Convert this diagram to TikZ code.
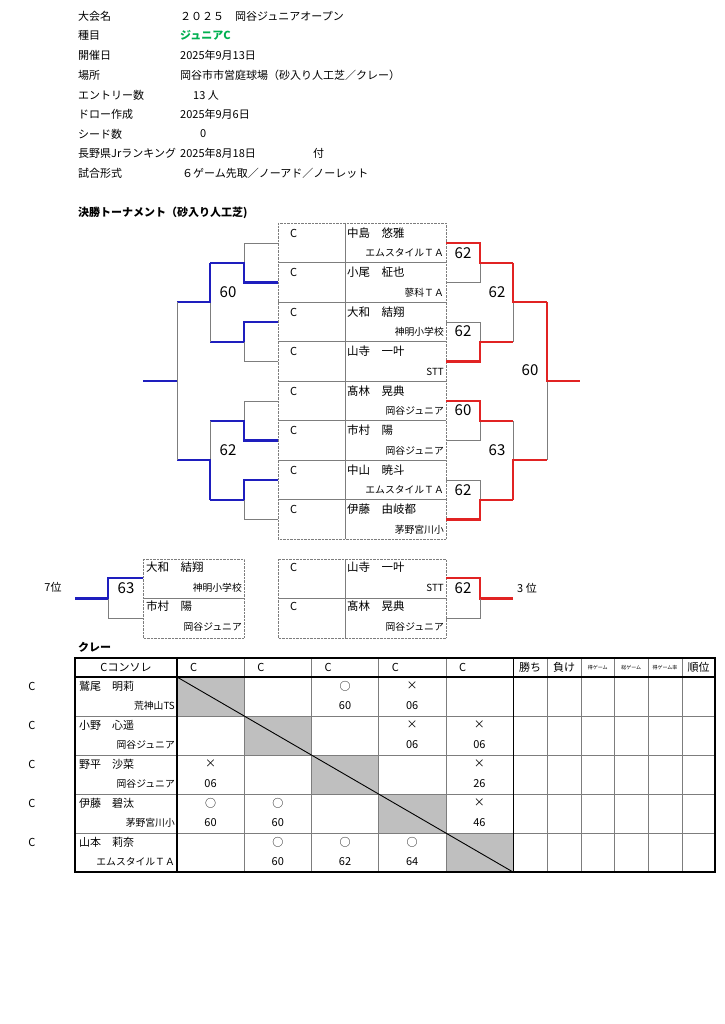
\documentclass[tikz,border=0pt]{standalone}
\usepackage{fontspec}
\setmainfont{Noto Sans CJK JP}
\usepackage{tikz}
\usetikzlibrary{positioning, calc}

\definecolor{tourblue}{RGB}{30,30,190}
\definecolor{tourred}{RGB}{225,35,35}
\definecolor{jrgreen}{RGB}{0,176,80}
\definecolor{lineg}{RGB}{125,125,125}
\definecolor{cellg}{RGB}{191,191,191}

\tikzset{
  lbl/.style={anchor=west, inner sep=0pt, font=\fontsize{11}{13}\selectfont},
  pname/.style={anchor=west, inner sep=0pt, font=\fontsize{11.5}{13}\selectfont},
  ctr/.style={inner sep=0pt, font=\fontsize{11}{13}\selectfont},
  club/.style={anchor=east, inner sep=0pt, font=\fontsize{9.8}{11}\selectfont},
  score/.style={inner sep=0pt, font=\fontsize{15}{17}\selectfont},
  tiny/.style={inner sep=0pt, font=\fontsize{5}{6}\selectfont},
  loser/.style={draw=lineg, line width=0.8pt},
  winL/.style={draw=tourblue, line width=2.3pt},
  winR/.style={draw=tourred, line width=2.3pt}
}

\begin{document}
\begin{tikzpicture}[x=1pt, y=-1pt]
\useasboundingbox[fill=white] (0,0) rectangle (724,1024);

% Header block
\foreach \i/\y/\lab in {1/16/大会名, 2/35/種目, 3/55/開催日, 4/75/場所, 5/95/エントリー数,
                        6/114/ドロー作成, 7/134/シード数, 8/153/長野県Jrランキング, 9/173/試合形式} {
    \node[lbl] (hl\i) at (78,\y) {\lab};
}
\node[lbl] (hv1) at (180,16) {２０２５　岡谷ジュニアオープン};
\node[lbl, text=jrgreen, font={\fontsize{11}{13}\selectfont\bfseries}] (hv2) at (180,35) {ジュニアC};
\node[lbl] (hv3) at (180,55) {2025年9月13日};
\node[lbl] (hv4) at (180,75) {岡谷市市営庭球場（砂入り人工芝／クレー）};
\node[lbl] (hv5) at (193,95) {13 人};
\node[lbl] (hv6) at (180,114) {2025年9月6日};
\node[lbl] (hv7) at (200,134) {0};
\node[lbl] (hv8) at (180,153) {2025年8月18日};
\node[lbl] (hv8b) at (313,153) {付};
\node[lbl] (hv9) at (182,173) {６ゲーム先取／ノーアド／ノーレット};

\node[lbl, font={\fontsize{11}{13}\selectfont\bfseries}] (final) at (78,213) {決勝トーナメント（砂入り人工芝)};

% Draw sheet (8 players)
\draw[lineg, densely dotted] (278,223) rectangle (446,539);
\draw[lineg] (345,223) -- (345,539);
\foreach \k/\pn/\pclub in {0/中島　悠雅/エムスタイルＴＡ, 1/小尾　柾也/蓼科ＴＡ, 2/大和　結翔/神明小学校,
                           3/山寺　一叶/STT, 4/髙林　晃典/岡谷ジュニア, 5/市村　陽/岡谷ジュニア,
                           6/中山　暁斗/エムスタイルＴＡ, 7/伊藤　由岐都/茅野宮川小} {
    \pgfmathsetmacro{\yt}{223+39.5*\k}
    \ifnum\k>0 \draw[lineg] (278,\yt) -- (446,\yt); \fi
    \node[lbl] (mc\k) at (290,\yt+10) {C};
    \node[pname] (mn\k) at (347,\yt+10) {\pn};
    \node[club] (mt\k) at (444,\yt+30) {\pclub};
}

% Left side lines
\draw[loser] (278,243) -- (244,243) -- (244,262.75);
\draw[winL] (278,282.5) -- (244,282.5) -- (244,262.75) -- (210,262.75);
\draw[winL] (278,322) -- (244,322) -- (244,341.75) -- (210,341.75);
\draw[loser] (278,361.5) -- (244,361.5) -- (244,341.75);
\draw[loser] (278,401) -- (244,401) -- (244,420.75);
\draw[winL] (278,440.5) -- (244,440.5) -- (244,420.75) -- (210,420.75);
\draw[winL] (278,480) -- (244,480) -- (244,499.75) -- (210,499.75);
\draw[loser] (278,519.5) -- (244,519.5) -- (244,499.75);
\draw[loser] (210,302.25) -- (210,341.75);
\draw[winL] (210,262.75) -- (210,302.25) -- (177,302.25);
\draw[loser] (210,420.75) -- (210,460.25);
\draw[winL] (210,499.75) -- (210,460.25) -- (177,460.25);
\draw[loser] (177,302.25) -- (177,460.25);
\draw[winL] (177,381.25) -- (143,381.25);
\node[score] (sl1) at (228,292) {60};
\node[score] (sl2) at (228,450) {62};

% Right side lines
\draw[loser] (446,282.5) -- (480,282.5) -- (480,262.75);
\draw[winR] (446,243) -- (480,243) -- (480,262.75) -- (513,262.75);
\draw[loser] (446,322) -- (480,322) -- (480,341.75);
\draw[winR] (446,361.5) -- (480,361.5) -- (480,341.75) -- (513,341.75);
\draw[loser] (446,440.5) -- (480,440.5) -- (480,420.75);
\draw[winR] (446,401) -- (480,401) -- (480,420.75) -- (513,420.75);
\draw[loser] (446,480) -- (480,480) -- (480,499.75);
\draw[winR] (446,519.5) -- (480,519.5) -- (480,499.75) -- (513,499.75);
\draw[loser] (513,302.25) -- (513,341.75);
\draw[winR] (513,262.75) -- (513,302.25) -- (547,302.25);
\draw[loser] (513,420.75) -- (513,460.25);
\draw[winR] (513,499.75) -- (513,460.25) -- (547,460.25);
\draw[loser] (547,381.25) -- (547,460.25);
\draw[winR] (547,302.25) -- (547,381.25) -- (580,381.25);
\foreach \i/\x/\y/\s in {1/463/253/62, 2/463/331.5/62, 3/463/410.5/60, 4/463/490/62,
                         5/497/292/62, 6/497/450/63, 7/530/370/60} {
    \node[score] (sr\i) at (\x,\y) {\s};
}

% 7th place
\draw[lineg, densely dotted] (143,559) rectangle (244,638);
\draw[lineg] (143,598.5) -- (244,598.5);
\node[pname] (sv1) at (146,567) {大和　結翔};
\node[club] (sv1c) at (242,588) {神明小学校};
\node[pname] (sv2) at (146,606.5) {市村　陽};
\node[club] (sv2c) at (242,627) {岡谷ジュニア};
\draw[winL] (143,578) -- (108,578) -- (108,598.5) -- (75,598.5);
\draw[loser] (143,618) -- (108,618) -- (108,598.5);
\node[score] (sv) at (126,588) {63};
\node[ctr] (seventh) at (53,587) {7位};

% 3rd place
\draw[lineg, densely dotted] (278,559) rectangle (446,638);
\draw[lineg] (345,559) -- (345,638);
\draw[lineg] (278,598.5) -- (446,598.5);
\node[lbl] (th1x) at (290,567) {C};
\node[pname] (th1) at (347,567) {山寺　一叶};
\node[club] (th1c) at (444,588) {STT};
\node[lbl] (th2x) at (290,606.5) {C};
\node[pname] (th2) at (347,606.5) {髙林　晃典};
\node[club] (th2c) at (444,627) {岡谷ジュニア};
\draw[winR] (446,578) -- (480,578) -- (480,598.5) -- (513,598.5);
\draw[loser] (446,618) -- (480,618) -- (480,598.5);
\node[score] (th) at (463,588) {62};
\node[lbl] (third) at (517,588) {3 位};

% Round robin (clay)
\node[lbl, font={\fontsize{11}{13}\selectfont\bfseries}] (clay) at (78,647) {クレー};
\foreach \c in {0,...,4} {
    \fill[cellg] ({177+67.2*\c},{677+39*\c}) rectangle ({244.2+67.2*\c},{716+39*\c});
}
\foreach \x in {244.2,311.4,378.6,445.8,547,581,614.5,648,682} {
    \draw[lineg] (\x,658) -- (\x,872);
}
\foreach \y in {716,755,794,833} {
    \draw[lineg] (75,\y) -- (715,\y);
}
\draw[line width=0.9pt] (513,658) -- (513,872);
\draw[line width=1.2pt] (177,658) -- (177,872);
\draw[line width=1.2pt] (75,677) -- (715,677);
\draw[line width=0.9pt] (177,677) -- (513,872);
\draw[line width=1.4pt] (75,658) rectangle (715,872);

\node[ctr] (hc0) at (126,667.5) {Cコンソレ};
\foreach \c in {0,...,4} {
    \node[lbl] (hc\c) at ({190+67.2*\c},667.5) {C};
}
\node[ctr] (hwin) at (530,667.5) {勝ち};
\node[ctr] (hlose) at (564,667.5) {負け};
\node[tiny] (hgot) at (597.7,667.5) {得ゲーム};
\node[tiny] (htot) at (631.2,667.5) {総ゲーム};
\node[tiny] (hrate) at (665,667.5) {得ゲーム率};
\node[ctr] (hrank) at (698.5,667.5) {順位};

\foreach \r/\pn/\pclub in {0/鷲尾　明莉/荒神山TS, 1/小野　心遥/岡谷ジュニア, 2/野平　沙菜/岡谷ジュニア,
                           3/伊藤　碧汰/茅野宮川小, 4/山本　莉奈/エムスタイルＴＡ} {
    \node[ctr] (rc\r) at (32,{686+39*\r}) {C};
    \node[lbl] (rn\r) at (79,{686+39*\r}) {\pn};
    \node[club] (rt\r) at (175,{706+39*\r}) {\pclub};
}
\foreach \r/\c/\s/\g [count=\n] in {0/2/○/60, 0/3/×/06, 1/3/×/06, 1/4/×/06, 2/0/×/06, 2/4/×/26,
                                    3/0/○/60, 3/1/○/60, 3/4/×/46, 4/1/○/60, 4/2/○/62, 4/3/○/64} {
    \node[ctr] (rs\n) at ({210.6+67.2*\c},{686+39*\r}) {\s};
    \node[ctr] (rg\n) at ({210.6+67.2*\c},{705.5+39*\r}) {\g};
}
\end{tikzpicture}
\end{document}
